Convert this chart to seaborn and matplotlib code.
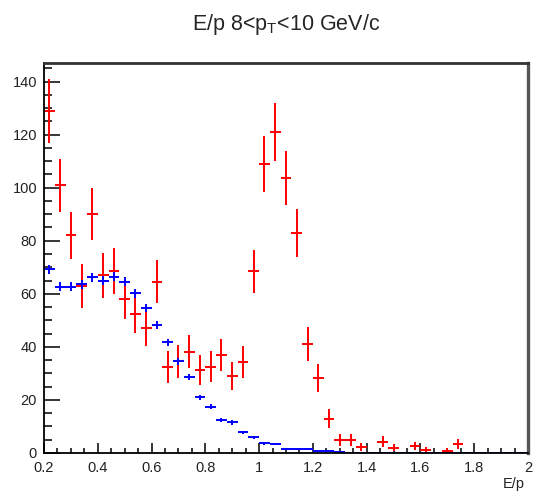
import numpy as np
import seaborn as sns
import matplotlib
matplotlib.use("Agg")
import matplotlib.pyplot as plt
from matplotlib.ticker import MultipleLocator, FuncFormatter

# 45 bins of width 0.04 between E/p = 0.2 and 2
bin_edges = np.linspace(0.2, 2.0, 46)
bin_centers = 0.5 * (bin_edges[:-1] + bin_edges[1:])
half_width = 0.02

# red histogram (counts per bin) and its errors
red_counts = [129, 101, 82, 63, 90, 67, 68.5, 58, 52.5, 47.3, 64.5, 32.5, 34.5, 38.2, 31.4,
              32.6, 37, 29, 34.3, 68.5, 109, 121, 103.5, 83, 41, 28.3, 13, 5, 5, 2.4,
              0, 4.3, 2, 0, 2.7, 1.1, 0, 0.9, 3.4, 0, 0, 0, 0, 0, 0]
red_err = [12, 10, 9, 8.2, 9.7, 8.5, 8.6, 7.5, 7.3, 7, 8.1, 6, 6.1, 6.3, 5.7,
           5.8, 6.1, 5.4, 5.9, 8.2, 10.5, 11, 10.2, 9.1, 6.5, 5.4, 3.6, 2.2, 2.2, 1.5,
           0, 2.1, 1.4, 0, 1.6, 1.0, 0, 1.0, 1.8, 0, 0, 0, 0, 0, 0]

# blue histogram (scaled reference) and its errors
blue_counts = [69.2, 62.7, 62.7, 63.6, 66.3, 65.0, 66.5, 64.6, 60.2, 54.7, 48.4, 41.7, 34.6, 28.6, 21.0,
               17.5, 12.5, 11.5, 7.8, 5.9, 3.6, 3.5, 1.5, 1.5, 1.4, 0.9, 0.9, 0.2, 0, 0,
               0, 0, 0, 0, 0, 0, 0, 0, 0, 0, 0, 0, 0, 0, 0]
blue_err = [1.8, 1.7, 1.7, 1.7, 1.7, 1.7, 1.7, 1.7, 1.65, 1.6, 1.5, 1.4, 1.3, 1.2, 1.05,
            0.95, 0.8, 0.8, 0.65, 0.55, 0.45, 0.45, 0.3, 0.3, 0.3, 0.25, 0.25, 0.1, 0, 0,
            0, 0, 0, 0, 0, 0, 0, 0, 0, 0, 0, 0, 0, 0, 0]

title = r"E/p 8<p$_{\mathrm{T}}$<10 GeV/c"
x_label = "E/p"

sns.set_style("ticks")
plt.rcParams["font.family"] = ["Liberation Sans", "DejaVu Sans"]
plt.rcParams["mathtext.fontset"] = "custom"
plt.rcParams["mathtext.rm"] = "Liberation Sans"
plt.rcParams["mathtext.it"] = "Liberation Sans"

fig = plt.figure(figsize=(5.39, 4.91), dpi=100)
ax = fig.add_axes([44 / 539, 38 / 491, 484 / 539, 390 / 491])

ax.errorbar(bin_centers, red_counts, yerr=red_err, xerr=half_width,
            fmt="none", ecolor="#ff0000", elinewidth=1.4, capsize=0)
ax.errorbar(bin_centers, blue_counts, yerr=blue_err, xerr=half_width,
            fmt="none", ecolor="#0000ff", elinewidth=1.4, capsize=0)

ax.set_xlim(0.2, 2.0)
ax.set_ylim(0, 147)

ax.xaxis.set_major_locator(MultipleLocator(0.2))
ax.xaxis.set_minor_locator(MultipleLocator(0.05))
ax.yaxis.set_major_locator(MultipleLocator(20))
ax.yaxis.set_minor_locator(MultipleLocator(5))
fmt = FuncFormatter(lambda v, p: "%g" % round(v, 2))
ax.xaxis.set_major_formatter(fmt)
ax.yaxis.set_major_formatter(fmt)

ax.tick_params(axis="both", which="both", direction="in", width=1.1, colors="black",
               labelsize=10.5)
ax.tick_params(axis="y", which="major", length=11.5, pad=5)
ax.tick_params(axis="y", which="minor", length=5.8)
ax.tick_params(axis="x", which="major", length=7, pad=5.5)
ax.tick_params(axis="x", which="minor", length=3.6)
ax.tick_params(axis="both", labelcolor="#222222")

for side in ["left", "bottom"]:
    ax.spines[side].set_color("black")
    ax.spines[side].set_linewidth(1.3)
ax.spines["top"].set_color("#333333")
ax.spines["top"].set_linewidth(2)
ax.spines["right"].set_color("#555555")
ax.spines["right"].set_linewidth(2.4)
for side in ["top", "right"]:
    ax.spines[side].set_visible(True)

fig.text(286 / 539, 1 - 30 / 491, title, ha="center", va="baseline", fontsize=15.5)
fig.text(525 / 539, 1 - 484 / 491, x_label, ha="right", va="center", fontsize=10.5,
         color="#222222")

fig.savefig("out.png", dpi=100)
